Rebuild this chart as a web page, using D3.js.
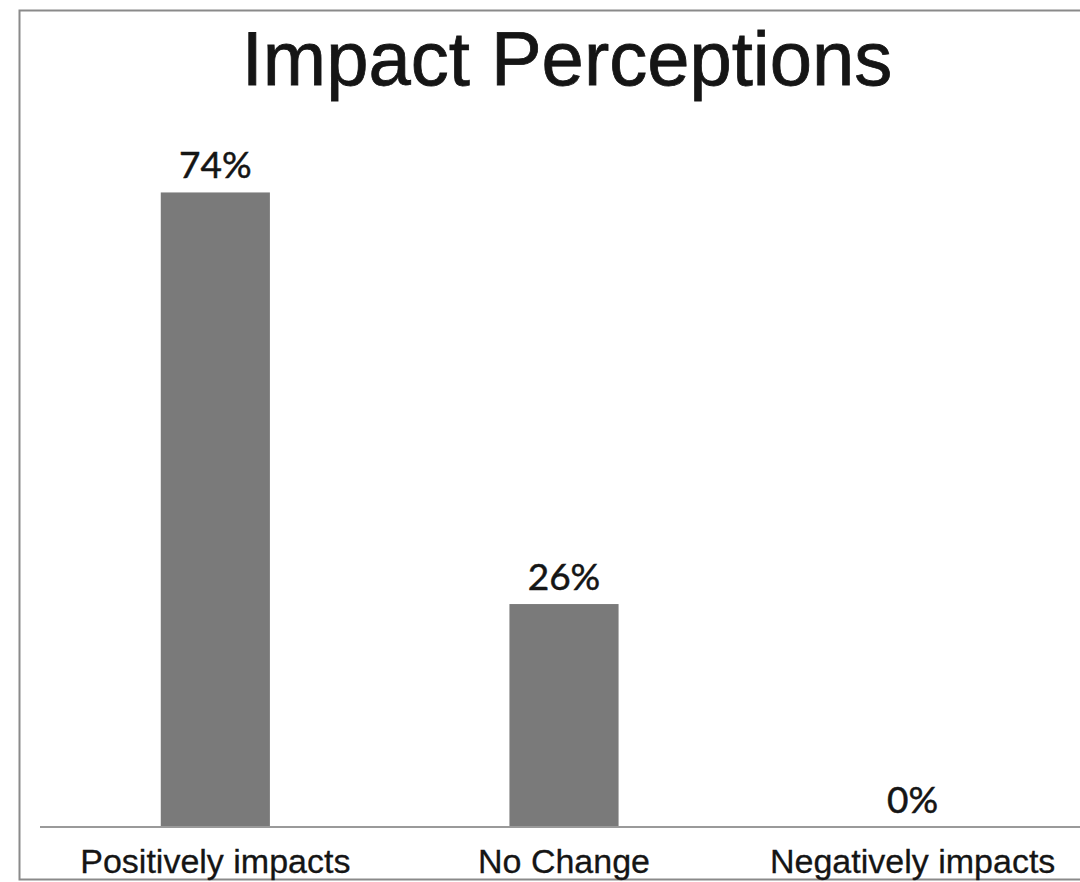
<!DOCTYPE html>
<html>
<head>
<meta charset="utf-8">
<script src="https://cdn.jsdelivr.net/npm/d3@7"></script>
<style>
  html, body { margin: 0; padding: 0; background: #fff; }
  svg { display: block; }
</style>
</head>
<body>
<script>
// Survey responses: how the change was perceived
const categories = ["Positively impacts", "No Change", "Negatively impacts"];
const shares = [0.74, 0.26, 0.00];
const valueLabels = ["74%", "26%", "0%"];
const chartTitle = "Impact Perceptions";

const width = 1080, height = 882;
const svg = d3.select("body").append("svg")
  .attr("width", width).attr("height", height);

// Outer frame of the chart area
svg.append("rect")
  .attr("x", 19.5).attr("y", 10.5)
  .attr("width", 1100).attr("height", 869)
  .attr("fill", "#fff")
  .attr("stroke", "#8a8a8a").attr("stroke-width", 2);

const baseY = 827;
const x = d3.scaleBand()
  .domain(categories)
  .range([41, 1087])
  .paddingInner(0.687)
  .paddingOuter(0.3435);

const y = d3.scaleLinear()
  .domain([0, 0.8])
  .range([baseY, baseY - 686]);

// Title
svg.append("text")
  .attr("x", 567).attr("y", 85)
  .attr("text-anchor", "middle")
  .attr("font-family", "'Liberation Sans', Arial, sans-serif")
  .attr("font-size", 76)
  .attr("fill", "#151515")
  .attr("stroke", "#151515")
  .attr("stroke-width", 0.8)
  .text(chartTitle);

// Bars
svg.selectAll("rect.bar")
  .data(shares)
  .join("rect")
  .attr("class", "bar")
  .attr("x", (d, i) => x(categories[i]))
  .attr("width", x.bandwidth())
  .attr("y", d => y(d))
  .attr("height", d => baseY - y(d))
  .attr("fill", "#7a7a7a");

// Value labels above bars
svg.selectAll("text.value")
  .data(shares)
  .join("text")
  .attr("class", "value")
  .attr("x", (d, i) => x(categories[i]) + x.bandwidth() / 2)
  .attr("y", d => y(d) - 14)
  .attr("text-anchor", "middle")
  .attr("font-family", "Lato, 'Open Sans', sans-serif")
  .attr("font-size", 37)
  .attr("fill", "#151515")
  .attr("stroke", "#151515")
  .attr("stroke-width", 0.5)
  .text((d, i) => valueLabels[i]);

// Category axis
const axis = svg.append("g")
  .attr("transform", `translate(0,${baseY})`)
  .call(d3.axisBottom(x).tickSize(0).tickPadding(0));
axis.select(".domain")
  .attr("d", `M40,0H1080`)
  .attr("stroke", "#9a9a9a")
  .attr("stroke-width", 2);
axis.selectAll(".tick text")
  .attr("dy", null)
  .attr("y", 46)
  .attr("font-family", "'Liberation Sans', Arial, sans-serif")
  .attr("font-size", 34)
  .attr("fill", "#151515")
  .attr("stroke", "#151515")
  .attr("stroke-width", 0.3);
</script>
</body>
</html>
